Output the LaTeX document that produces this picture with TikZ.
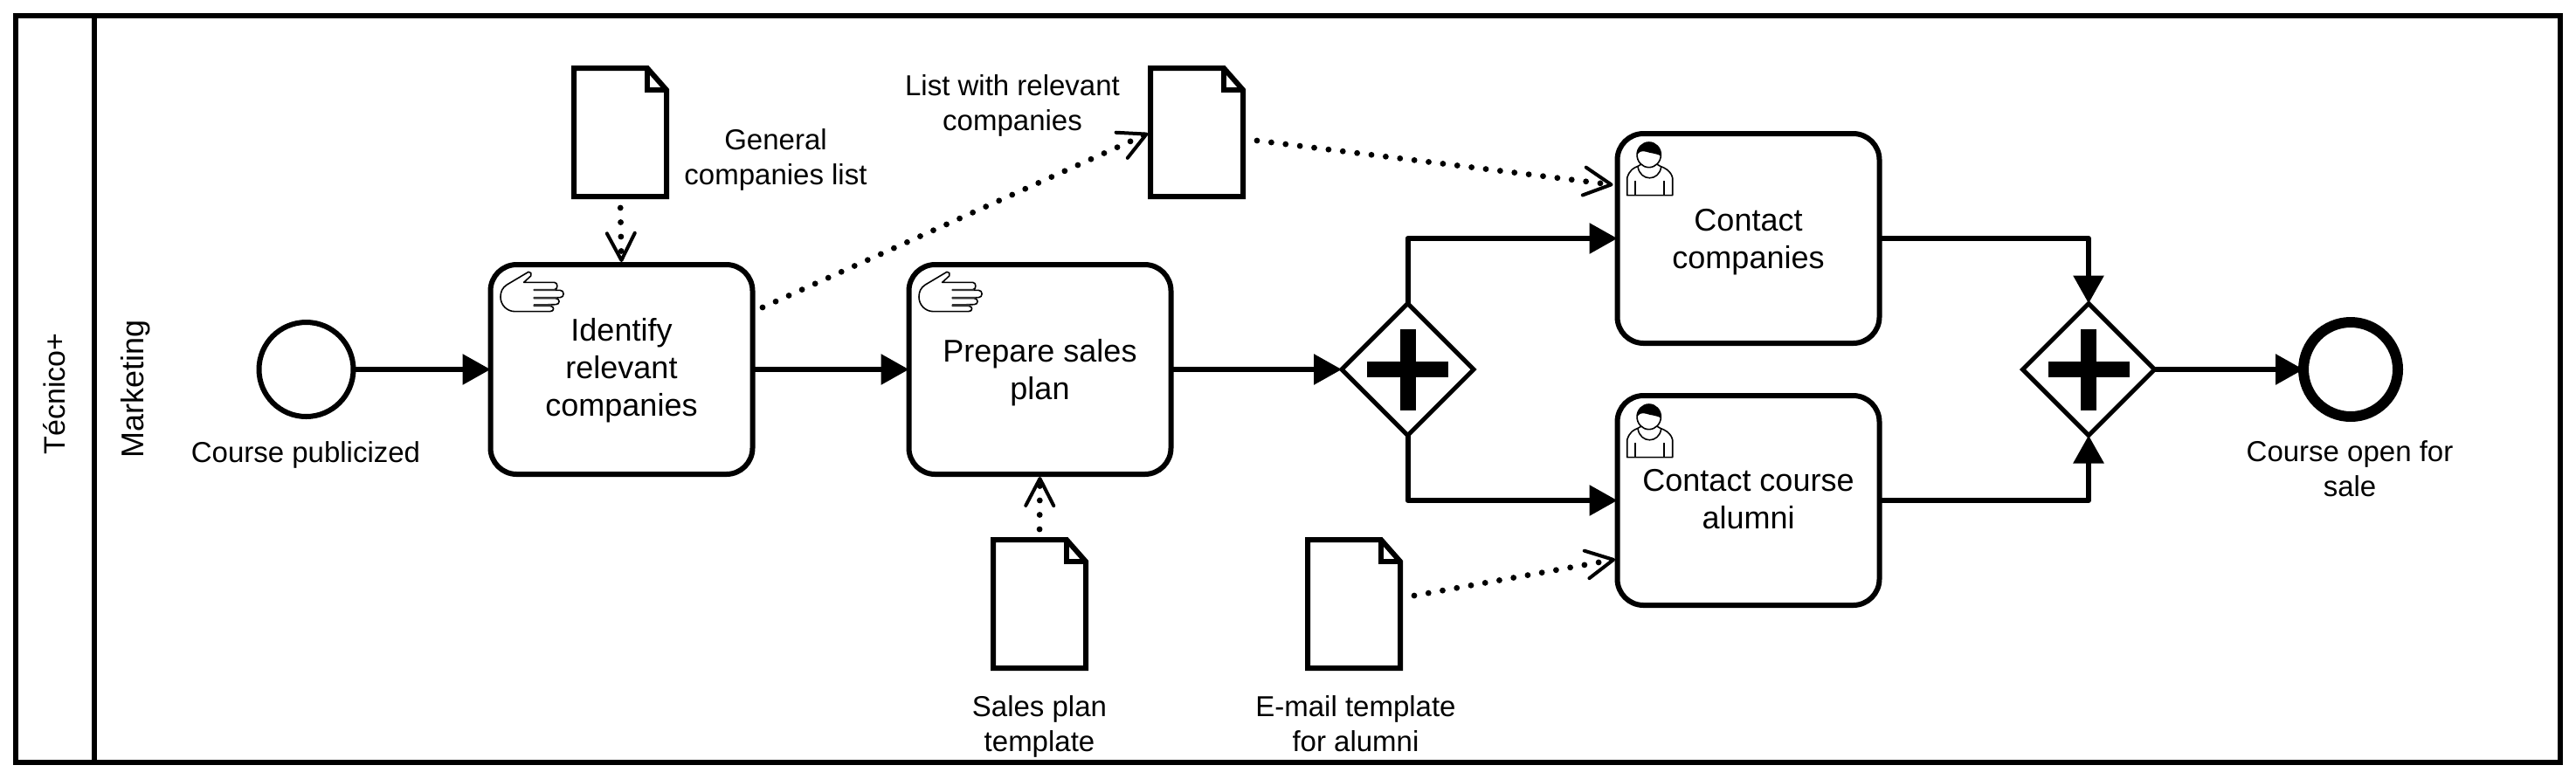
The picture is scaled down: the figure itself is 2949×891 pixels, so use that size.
\documentclass[tikz,border=0pt]{standalone}
\usepackage{fontspec}
\setmainfont{Liberation Sans}
\usetikzlibrary{arrows.meta}
\usetikzlibrary{shapes.geometric}
\tikzset{pool/.style = {draw, line width = 3pt, outer sep = 0, inner sep = 0, minimum width = 1456.5pt, minimum height = 427.5pt}}
\tikzset{task/.style = {draw, line width = 3pt, rounded corners = 15pt, outer sep = 0, inner sep = 0, minimum width = 150pt, minimum height = 120pt, align = center,
                        font = \fontsize{18}{21.3}\selectfont, execute at begin node = \strut, execute at end node = \strut}}
\tikzset{label/.style = {align = center, inner sep = 0, font = \fontsize{16.5}{20}\selectfont, execute at begin node = \strut, execute at end node = \strut}}
\tikzset{lane/.style = {rotate = 90, anchor = base, inner sep = 0, font = \fontsize{18}{21}\selectfont}}
\tikzset{startev/.style = {draw, circle, line width = 3pt, outer sep = 0, inner sep = 0, minimum size = 54pt}}
\tikzset{endev/.style = {draw, circle, line width = 6pt, outer sep = 0, inner sep = 0, minimum size = 54pt}}
\tikzset{gate/.style = {draw, diamond, aspect = 1, line width = 2.5pt, outer sep = 0, inner sep = 0, minimum size = 75.5pt,
                        path picture = {\fill ([xshift = -23.25pt, yshift = -4.5pt]path picture bounding box.center) rectangle ++(93, -18);
                                        \fill ([xshift = -4.5pt, yshift = -23.25pt]path picture bounding box.center) rectangle ++(18, -93);}}}
\tikzset{docbox/.style = {outer sep = 0, inner sep = 0, minimum width = 53pt, minimum height = 73.5pt}}
\tikzset{docline/.style = {line width = 3pt, line join = miter}}
\tikzset{flow/.style = {line width = 3pt, line join = round, -{Triangle[length = 16pt, width = 17pt]}}}
\tikzset{assoc/.style = {line width = 3.4pt, line cap = round, dash pattern = on 0pt off 8.25pt, shorten > = 1.5pt,
                         -{Straight Barb[length = 15.5pt, width = 16pt, line width = 2pt, round]}}}
\tikzset{iconline/.style = {line width = 0.8pt, line join = round}}
\tikzset{handicon/.pic = {
      \draw [iconline, fill = white] (80, 37) -- (104, 15) .. controls (108, 8) and (104, -1) .. (96, 1) -- (22, 45) .. controls (6, 55) and (0, 70) .. (0, 87)
            .. controls (0, 115) and (22, 137) .. (50, 137) -- (170, 137) .. controls (186, 137) and (186, 118) .. (170, 118) -- (115, 118)
            -- (115, 114) -- (190, 113) .. controls (205, 113) and (205, 92) .. (190, 92) -- (115, 92)
            -- (115, 89) -- (205, 89) .. controls (220, 89) and (220, 64) .. (205, 64) -- (115, 64)
            -- (115, 62) -- (185, 62) .. controls (198, 62) and (198, 37) .. (185, 37) -- cycle;
      \draw [line width = 1.2pt, black!80] (115, 63) -- (190, 63);
      \draw [line width = 1.2pt, black!80] (115, 90.5) -- (195, 90.5);
      \draw [line width = 1.2pt, black!80] (115, 116) -- (175, 116);
    }}
\tikzset{usericon/.pic = {
      \draw [iconline, fill = white] (54, 72) -- (37, 82) .. controls (22, 88) and (8, 95) .. (0, 122) -- (0, 182) -- (156, 182) -- (156, 122)
            .. controls (150, 97) and (130, 88) .. (114, 82) -- (97, 72) -- cycle;
      \draw [iconline] (37, 84) .. controls (45, 135) and (110, 135) .. (117, 84);
      \draw [iconline, fill = white] (75, 43) ellipse (41 and 43);
      \fill (34, 45) .. controls (34, -14) and (116, -14) .. (116, 47) .. controls (105, 38) and (80, 38) .. (65, 32) .. controls (50, 28) and (40, 32) .. cycle;
      \draw [iconline, line width = 1pt] (27, 132) -- (27, 180);
      \draw [iconline, line width = 1pt] (127, 132) -- (127, 180);
    }}
\newcommand{\docnode}[2]{
      \node [docbox] (#1) at (#2) {};
      \draw [docline] (#1.north west) -- ([xshift = -11pt]#1.north east) -- ([yshift = -12.5pt]#1.north east) -- (#1.south east) -- (#1.south west) -- cycle;
      \draw [docline] ([xshift = -11pt]#1.north east) |- ([yshift = -12.5pt]#1.north east);
}

\begin{document}
\begin{tikzpicture}[x = 0.5pt, y = -0.5pt]
      \useasboundingbox (0, 0) rectangle (2949, 891);
      \node [pool] (outer) at (1474.5, 445.5) {};
      \coordinate (dividertop) at (108, 18);
      \coordinate (dividerbot) at (108, 873);
      \draw [line width = 3pt] (dividertop) -- (dividerbot);
      \node [lane, font = \fontsize{17}{21}\selectfont] (org) at (74.5, 451) {Técnico+};
      \node [lane] (dept) at (164, 445) {Marketing};

      \node [startev] (begin) at (350.5, 423) {};
      \node [task] (identify) at (711.5, 423) {\rule{0pt}{16.9pt}Identify\\relevant\\companies};
      \node [task] (prepare) at (1190.5, 423) {\rule{0pt}{19.1pt}Prepare sales\\plan};
      \node [gate] (split) at (1611.5, 423) {};
      \node [task] (contact) at (2001.5, 273) {\rule{0pt}{19.1pt}Contact\\companies};
      \node [task] (alumni) at (2001.5, 573) {\rule{0pt}{17.6pt}Contact course\\alumni};
      \node [gate] (join) at (2391, 423) {};
      \node [endev] (finish) at (2691, 423) {};

      \node [label, anchor = base, execute at begin node = {}, execute at end node = {}] (beginlabel) at (350, 529) {Course publicized};
      \node [label] (finishlabel) at (2690, 542.3) {Course open for\\sale};
      \node [label] (genlabel) at (888, 185.8) {General\\companies list};
      \node [label] (listlabel) at (1159, 123.3) {List with relevant\\companies};
      \node [label] (planlabel) at (1190, 834.2) {Sales plan\\template};
      \node [label] (maillabel) at (1552, 834.2) {E-mail template\\for alumni};

      \docnode{docgen}{710, 151.5}
      \docnode{doclist}{1370, 151.5}
      \docnode{docplan}{1190, 691.5}
      \docnode{docmail}{1550, 691.5}

      \pic [scale = 1/3] at (573, 311) {handicon};
      \pic [scale = 1/3] at (1052, 311) {handicon};
      \pic [scale = 1/3] at (1862.7, 163) {usericon};
      \pic [scale = 1/3] at (1862.7, 463) {usericon};

      \draw [flow] (begin) -- (identify);
      \draw [flow] (identify) -- (prepare);
      \draw [flow] (prepare) -- (split);
      \draw [flow] (split.north) |- (contact.west);
      \draw [flow] (split.south) |- (alumni.west);
      \draw [flow] (contact.east) -| (join.north);
      \draw [flow] (alumni.east) -| (join.south);
      \draw [flow] (join) -- (finish);

      \coordinate (idout) at (873, 352);
      \coordinate (listout) at (1439, 161);
      \coordinate (contactin) at (1849.5, 212);
      \coordinate (mailout) at (1619, 682);
      \coordinate (alumniin) at (1852, 640);
      \draw [assoc, shorten < = 6.5pt] (docgen.south) -- (identify.north);
      \draw [assoc, shorten < = 6pt] (docplan.north) -- (prepare.south);
      \draw [assoc] (idout) -- (doclist.west);
      \draw [assoc] (listout) -- (contactin);
      \draw [assoc] (mailout) -- (alumniin);
    \end{tikzpicture}
\end{document}
